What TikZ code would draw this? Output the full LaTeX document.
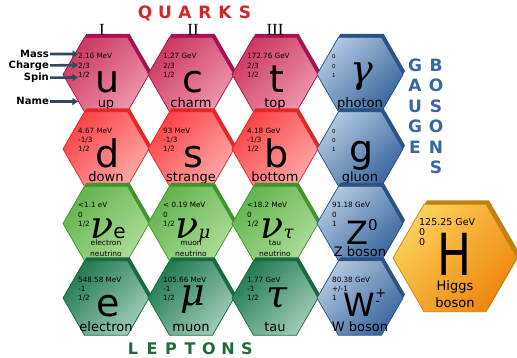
\documentclass[tikz,border=0pt]{standalone}
\usepackage{fontspec}
\usepackage{graphicx}
\setmainfont{DejaVu Sans}
\newfontfamily\numeralfont{Liberation Serif}
\newfontfamily\greekfont{DejaVu Serif}
\newcommand{\grk}[1]{{\greekfont\itshape #1}}
\usetikzlibrary{shapes.geometric,arrows.meta}
\definecolor{upTop}{RGB}{204,56,98}
\definecolor{upBot}{RGB}{236,150,170}
\definecolor{upEdge}{RGB}{166,18,82}
\definecolor{downTop}{RGB}{250,68,70}
\definecolor{downBot}{RGB}{255,168,168}
\definecolor{downEdge}{RGB}{228,38,40}
\definecolor{nuTop}{RGB}{98,180,78}
\definecolor{nuBot}{RGB}{172,220,152}
\definecolor{nuEdge}{RGB}{64,148,44}
\definecolor{lepTop}{RGB}{34,122,82}
\definecolor{lepBot}{RGB}{160,204,184}
\definecolor{lepEdge}{RGB}{26,106,64}
\definecolor{bosTop}{RGB}{176,200,224}
\definecolor{bosBot}{RGB}{56,102,158}
\definecolor{bosEdge}{RGB}{42,82,130}
\definecolor{higgsTop}{RGB}{252,208,88}
\definecolor{higgsBot}{RGB}{238,134,14}
\definecolor{higgsEdge}{RGB}{194,130,18}
\definecolor{quarkRed}{RGB}{210,38,42}
\definecolor{leptonGreen}{RGB}{34,106,58}
\definecolor{bosonBlue}{RGB}{58,102,168}
\definecolor{arrowSlate}{RGB}{52,72,92}

\tikzset{
  hexbase/.style={regular polygon, regular polygon sides=6, minimum size=86pt,
    inner sep=0pt, outer sep=0pt},
  hexedge/.style={hexbase, fill=#1Edge},
  hexface/.style={hexbase, top color=#1Top, bottom color=#1Bot, shading angle=45,
    draw=#1Edge, line width=0.7pt},
  props/.style={anchor=base west, inner sep=0pt, font=\fontsize{#1}{#1}\selectfont},
  symb/.style={anchor=base, inner sep=0pt, font=\fontsize{38}{38}\selectfont},
  pname/.style={anchor=base, inner sep=0pt, font=\fontsize{13}{17}\selectfont},
  numeral/.style={anchor=base, inner sep=0pt, font=\numeralfont\fontsize{17}{17}\selectfont},
  proplabel/.style={anchor=base east, inner sep=1pt, font=\fontsize{10}{10}\selectfont\bfseries},
  proparrow/.style={draw=arrowSlate, line width=2.6pt, -{Triangle[length=5.5pt,width=7pt]}},
  groupletter/.style={anchor=base, inner sep=0pt, font=\fontsize{17}{17}\selectfont\bfseries}
}

% name, position, colour family, mass, charge, spin, symbol, label, size of the values
\newcommand{\particle}[9]{%
  \node[hexedge=#3] (#1-edge) at ([shift={(2,-3.5)}]#2) {};
  \node[hexface=#3] (#1) at (#2) {};
  \node[props=#9] (#1-mass) at ([shift={(-28,-15.5)}]#1.center) {#4};
  \node[props=#9] (#1-charge) at ([shift={(-28,-6.3)}]#1.center) {#5};
  \node[props=#9] (#1-spin) at ([shift={(-28,3)}]#1.center) {#6};
  \node[symb] (#1-sym) at ([shift={(2,18.5)}]#1.center) {#7};
  \node[pname] (#1-name) at ([shift={(0,33)}]#1.center) {#8};
}
\newcommand{\twolines}[2]{\begin{tabular}[b]{@{}c@{}}#1\\#2\end{tabular}}

\begin{document}
\begin{tikzpicture}[x=1pt,y=-1pt]
\path[use as bounding box, fill=white] (0,0) rectangle (517,358);

% quarks, first row
\particle{u}{106,74.5}{up}{2.16 MeV}{2/3}{1/2}{u}{up}{7.2}
\particle{c}{191,74.5}{up}{1.27 GeV}{2/3}{1/2}{c}{charm}{7.2}
\particle{t}{275,74.5}{up}{172.76 GeV}{2/3}{1/2}{t}{top}{7.2}
\particle{photon}{360,74.5}{bos}{0}{0}{1}{\raisebox{10pt}{\grk{γ}}}{photon}{5.5}
% quarks, second row
\particle{d}{106,149}{down}{4.67 MeV}{-1/3}{1/2}{d}{down}{7.2}
\particle{s}{191,149}{down}{93 MeV}{-1/3}{1/2}{s}{strange}{7.2}
\particle{b}{275,149}{down}{4.18 GeV}{-1/3}{1/2}{b}{bottom}{7.2}
\particle{gluon}{360,149}{bos}{0}{0}{1}{\raisebox{5pt}{g}}{gluon}{5.5}
% leptons
\particle{nue}{106,223.5}{nu}{<1.1 eV}{0}{1/2}%
  {\raisebox{3.5pt}{\fontsize{38}{38}\selectfont\grk{ν}\fontsize{20}{20}\selectfont e}}%
  {\fontsize{7.5}{10.5}\selectfont\twolines{electron}{neutrino}}{7.2}
\particle{numu}{191,223.5}{nu}{< 0.19 MeV}{0}{1/2}%
  {\raisebox{3.5pt}{\fontsize{38}{38}\selectfont\grk{ν}\fontsize{18}{18}\selectfont\grk{μ}}}%
  {\fontsize{7.5}{10.5}\selectfont\twolines{muon}{neutrino}}{7.2}
\particle{nutau}{275,223.5}{nu}{<18.2 MeV}{0}{1/2}%
  {\raisebox{3.5pt}{\fontsize{38}{38}\selectfont\grk{ν}\fontsize{18}{18}\selectfont\grk{τ}}}%
  {\fontsize{7.5}{10.5}\selectfont\twolines{tau}{neutrino}}{7.2}
\particle{Z}{360,223.5}{bos}{91.18 GeV}{0}{1}%
  {\raisebox{-3pt}{\fontsize{32}{32}\selectfont Z\raisebox{14pt}{\fontsize{15}{15}\selectfont 0}}}%
  {Z boson}{7.2}
\particle{e}{106,298}{lep}{548.58 MeV}{-1}{1/2}{e}{electron}{7.2}
\particle{mu}{191,298}{lep}{105.66 MeV}{-1}{1/2}{\raisebox{11pt}{\grk{μ}}}{muon}{7.2}
\particle{tau}{275,298}{lep}{1.77 GeV}{-1}{1/2}{\raisebox{9pt}{\grk{τ}}}{tau}{7.2}
\particle{W}{360,298}{bos}{80.38 GeV}{+/-1}{1}%
  {\fontsize{32}{32}\selectfont W\rlap{\raisebox{19pt}{\fontsize{13}{13}\selectfont +}}\raisebox{11pt}{\fontsize{13}{13}\selectfont -}}%
  {W boson}{7.2}

% Higgs
\node[hexedge=higgs, minimum size=124pt] (H-edge) at (458,254) {};
\node[hexface=higgs, minimum size=124pt] (H) at (455,258) {};
\node[props=9.5] (H-mass) at ([shift={(-36,-32)}]H.center) {125.25 GeV};
\node[props=9.5] (H-charge) at ([shift={(-36,-22)}]H.center) {0};
\node[props=9.5] (H-spin) at ([shift={(-36,-12)}]H.center) {0};
\node[symb, font=\fontsize{58}{58}\selectfont] (H-sym) at ([shift={(0,18)}]H.center) {\scalebox{0.78}[1]{H}};
\node[pname] (H-name) at ([shift={(0,49)}]H.center) {\twolines{Higgs}{boson}};

% generations
\node[numeral] (gen1) at (102,35.5) {I};
\node[numeral] (gen2) at (193,35.5) {II};
\node[numeral] (gen3) at (275,35.5) {III};

% group titles
\foreach \ch [count=\i] in {Q,U,A,R,K,S}
  \node[groupletter, text=quarkRed] (quark\i) at (125+20*\i,18.5) {\ch};
\foreach \ch [count=\i] in {L,E,P,T,O,N,S}
  \node[groupletter, text=leptonGreen, font=\fontsize{16}{16}\selectfont\bfseries] (lepton\i) at (114+19*\i,354.5) {\ch};
\foreach \ch [count=\i] in {G,A,U,G,E}
  \node[groupletter, text=bosonBlue] (gauge\i) at (415,51+20.5*\i) {\ch};
\foreach \ch [count=\i] in {B,O,S,O,N,S}
  \node[groupletter, text=bosonBlue] (boson\i) at (436,51+20.5*\i) {\ch};

% key on the left
\node[proplabel] (massLbl) at (50,57.5) {Mass};
\node[proplabel] (chargeLbl) at (50,68.5) {Charge};
\node[proplabel] (spinLbl) at (50,80.5) {Spin};
\node[proplabel] (nameLbl) at (50,105) {Name};
\coordinate (massTip) at (78,54);
\coordinate (chargeTip) at (78,65);
\coordinate (spinTip) at (78,77.5);
\coordinate (nameTip) at (78,101.5);
\draw[proparrow] (massLbl) -- (massTip);
\draw[proparrow] (chargeLbl) -- (chargeTip);
\draw[proparrow] (spinLbl) -- (spinTip);
\draw[proparrow] (nameLbl) -- (nameTip);
\end{tikzpicture}
\end{document}
